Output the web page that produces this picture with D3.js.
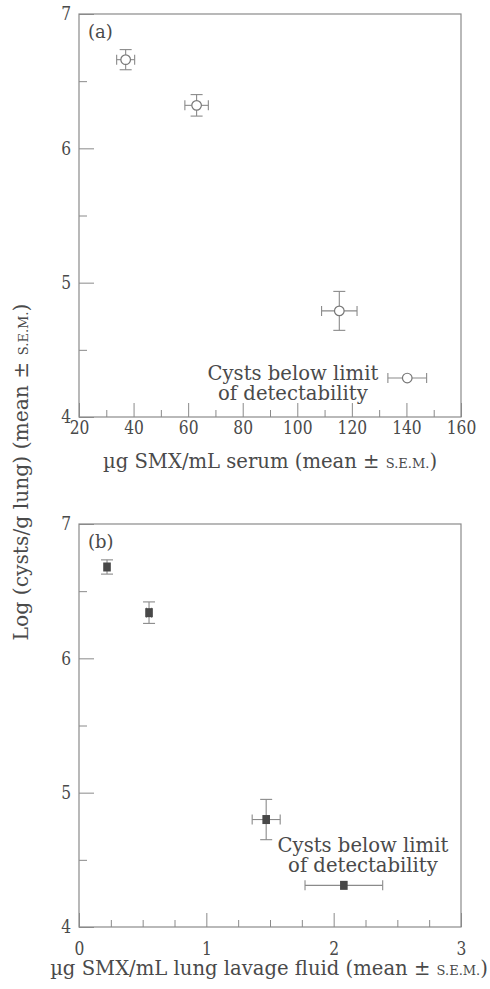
<!DOCTYPE html>
<html>
<head>
<meta charset="utf-8">
<script src="https://cdn.jsdelivr.net/npm/d3@7"></script>
<style>
  body { margin: 0; background: #fff; }
  text { font-family: "DejaVu Serif", serif; fill: #4a4a4a; }
</style>
</head>
<body>
<svg id="chart" width="490" height="989"></svg>
<script>
// shared y axis (log cysts / g lung)
const yTickValues = [4, 5, 6, 7];
const yMinorValues = [4.5, 5.5, 6.5];

// panel (a): serum SMX
const serumTicks = [20, 40, 60, 80, 100, 120, 140, 160];
const serumMinor = [30, 50, 70, 90, 110, 130, 150];
const serumMean = [37.1, 63.1, 115.4, 140.3];
const serumSem = [3.3, 4.3, 6.5, 7.1];
const serumLogCysts = [6.66, 6.32, 4.79, 4.29];
const serumLogSem = [0.075, 0.08, 0.145, 0];

// panel (b): lung lavage fluid SMX
const lavageTicks = [0, 1, 2, 3];
const lavageMinor = [0.25, 0.5, 0.75, 1.25, 1.5, 1.75, 2.25, 2.5, 2.75];
const lavageMean = [0.22, 0.55, 1.47, 2.08];
const lavageSem = [0, 0.02, 0.11, 0.305];
const lavageLogCysts = [6.68, 6.34, 4.80, 4.31];
const lavageLogSem = [0.053, 0.08, 0.15, 0];

const annotationLines = ['Cysts below limit', 'of detectability'];

const svg = d3.select('#chart');
const lineColor = '#8a8a8a';
const textSize = '19.6px';
const smallCaps = '13px';

function drawPanel(opts) {
  const x = d3.scaleLinear().domain(opts.xDomain).range([79, 461]);
  const y = d3.scaleLinear().domain([4, 7]).range([opts.bottom, opts.top]);
  const g = svg.append('g');

  const data = opts.xs.map((v, i) => ({
    x: v, xe: opts.xe[i], y: opts.ys[i], ye: opts.ye[i]
  }));

  // minor ticks
  g.append('g')
    .attr('transform', `translate(79,0)`)
    .call(d3.axisLeft(y).tickValues(yMinorValues).tickSize(-8).tickFormat(''))
    .call(s => s.select('.domain').remove());
  g.append('g')
    .attr('transform', `translate(0,${opts.bottom})`)
    .call(d3.axisBottom(x).tickValues(opts.xMinor).tickSize(-7).tickFormat(''))
    .call(s => s.select('.domain').remove());

  // major ticks + labels
  g.append('g')
    .attr('transform', `translate(79,0)`)
    .call(d3.axisLeft(y).tickValues(yTickValues).tickSize(-15).tickPadding(8).tickFormat(d3.format('d')))
    .call(s => s.select('.domain').remove());
  g.append('g')
    .attr('transform', `translate(0,${opts.bottom})`)
    .call(d3.axisBottom(x).tickValues(opts.xTicks).tickSize(-14).tickPadding(opts.xPad).tickFormat(d3.format('d')))
    .call(s => s.select('.domain').remove());

  g.selectAll('.tick line').attr('stroke', lineColor).attr('stroke-width', 1);
  // the printed digits are taller than they are wide, so stretch them a little
  g.selectAll('.tick text')
    .attr('fill', '#4a4a4a')
    .attr('transform', 'scale(1,1.2)')
    .style('font-family', '"DejaVu Serif", serif')
    .style('font-size', '15.5px');

  // frame
  g.append('rect')
    .attr('x', x.range()[0]).attr('y', opts.top)
    .attr('width', x.range()[1] - x.range()[0])
    .attr('height', opts.bottom - opts.top)
    .attr('fill', 'none').attr('stroke', lineColor).attr('stroke-width', 1.2);

  // error bars
  const eb = g.append('g').attr('stroke', lineColor).attr('stroke-width', 1.1).attr('fill', 'none');
  data.filter(d => d.xe > 0).forEach(d => {
    const x0 = x(d.x - d.xe), x1 = x(d.x + d.xe), cy = y(d.y);
    eb.append('line').attr('x1', x0).attr('x2', x1).attr('y1', cy).attr('y2', cy);
    eb.append('line').attr('x1', x0).attr('x2', x0).attr('y1', cy - 5).attr('y2', cy + 5);
    eb.append('line').attr('x1', x1).attr('x2', x1).attr('y1', cy - 5).attr('y2', cy + 5);
  });
  data.filter(d => d.ye > 0).forEach(d => {
    const y0 = y(d.y - d.ye), y1 = y(d.y + d.ye), cx = x(d.x);
    eb.append('line').attr('x1', cx).attr('x2', cx).attr('y1', y0).attr('y2', y1);
    eb.append('line').attr('x1', cx - 6).attr('x2', cx + 6).attr('y1', y0).attr('y2', y0);
    eb.append('line').attr('x1', cx - 6).attr('x2', cx + 6).attr('y1', y1).attr('y2', y1);
  });

  // markers
  if (opts.marker === 'circle') {
    g.selectAll('circle.pt').data(data).join('circle')
      .attr('class', 'pt')
      .attr('cx', d => x(d.x)).attr('cy', d => y(d.y)).attr('r', 4.8)
      .attr('fill', '#fff').attr('stroke', '#777').attr('stroke-width', 1.2);
  } else {
    g.selectAll('rect.pt').data(data).join('rect')
      .attr('class', 'pt')
      .attr('x', d => x(d.x) - 3.8).attr('y', d => y(d.y) - 4.5)
      .attr('width', 7.6).attr('height', 9)
      .attr('fill', '#484848');
  }

  // panel letter
  g.append('text')
    .attr('x', 88).attr('y', opts.top + 24)
    .style('font-size', '18px')
    .text(opts.letter);

  // annotation
  const ann = g.append('text')
    .attr('text-anchor', 'middle')
    .style('font-size', textSize);
  annotationLines.forEach((t, i) => {
    ann.append('tspan')
      .attr('x', x(opts.annX))
      .attr('y', y(opts.annY) + i * 20)
      .text(t);
  });

  // x title
  const xt = g.append('text')
    .attr('x', opts.titleX).attr('y', opts.titleY)
    .attr('text-anchor', 'middle')
    .style('font-size', textSize);
  xt.append('tspan').text(opts.xTitle + ' (mean \u00b1 ');
  xt.append('tspan').style('font-size', smallCaps).text('S.E.M.');
  xt.append('tspan').text(')');
}

drawPanel({
  letter: '(a)', top: 14, bottom: 417,
  xDomain: [20, 160], xTicks: serumTicks, xMinor: serumMinor, xPad: 3.5,
  xs: serumMean, xe: serumSem, ys: serumLogCysts, ye: serumLogSem,
  marker: 'circle', annX: 98.4, annY: 4.275,
  xTitle: '\u00b5g SMX/mL serum', titleX: 270, titleY: 468
});

drawPanel({
  letter: '(b)', top: 524, bottom: 927,
  xDomain: [0, 3], xTicks: lavageTicks, xMinor: lavageMinor, xPad: 12.5,
  xs: lavageMean, xe: lavageSem, ys: lavageLogCysts, ye: lavageLogSem,
  marker: 'square', annX: 2.23, annY: 4.558,
  xTitle: '\u00b5g SMX/mL lung lavage fluid', titleX: 269, titleY: 975
});

// shared y title
const yt = svg.append('text')
  .attr('transform', 'translate(28,472) rotate(-90)')
  .attr('text-anchor', 'middle')
  .style('font-size', '20.3px');
yt.append('tspan').text('Log (cysts/g lung) (mean \u00b1 ');
yt.append('tspan').style('font-size', smallCaps).text('S.E.M.');
yt.append('tspan').text(')');
</script>
</body>
</html>
